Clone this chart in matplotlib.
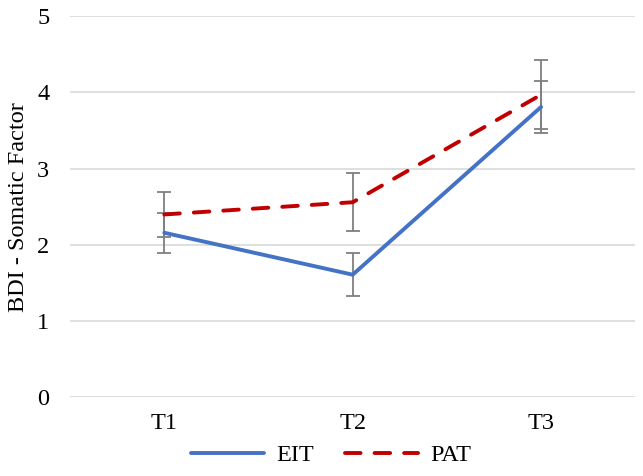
import matplotlib
matplotlib.use("Agg")
import matplotlib.pyplot as plt
from matplotlib import font_manager as fm
import numpy as np

categories = ["T1", "T2", "T3"]
eit_mean = [2.16, 1.61, 3.81]
eit_err = [0.26, 0.28, 0.34]
pat_mean = [2.40, 2.56, 3.97]
pat_err = [0.29, 0.38, 0.45]
yticks = [0, 1, 2, 3, 4, 5]

FONT = "Liberation Serif"
path = fm.findfont(fm.FontProperties(family=FONT), fallback_to_default=True)
prop = fm.FontProperties(fname=path, size=17.5)

fig = plt.figure(figsize=(6.43, 4.76), dpi=100)
ax = fig.add_axes([0.109, 0.165, 0.879, 0.801])

x = np.arange(len(categories)) + 0.5
err_color = "#7f7f7f"
ax.errorbar(x, eit_mean, yerr=eit_err, fmt='none', ecolor=err_color, elinewidth=1.3, capsize=5, capthick=1.3, zorder=3)
ax.errorbar(x, pat_mean, yerr=pat_err, fmt='none', ecolor=err_color, elinewidth=1.3, capsize=5, capthick=1.3, zorder=3)
ax.plot(x, eit_mean, color="#4472C4", lw=2.8, label="EIT", zorder=4, solid_capstyle='round')
ax.plot(x, pat_mean, color="#C00000", lw=2.8, ls=(0, (4.0, 3.6)), label="PAT", zorder=4, dash_capstyle='round')

ax.set_xlim(0, 3)
ax.set_ylim(0, 5)
ax.set_xticks(x)
ax.set_xticklabels(categories)
ax.set_yticks(yticks)
ax.set_yticklabels([str(v) for v in yticks])
for lbl in ax.get_xticklabels() + ax.get_yticklabels():
    lbl.set_fontproperties(prop)
ax.tick_params(length=0, colors="#000000")
ax.tick_params(axis='y', pad=15)
ax.tick_params(axis='x', pad=11)
ax.grid(axis='y', color="#d9d9d9", lw=1.2)
ax.set_axisbelow(True)
for s in ax.spines.values():
    s.set_visible(False)
ax.set_ylabel("BDI - Somatic Factor", fontproperties=prop, labelpad=6)

fig.legend(loc='lower center', bbox_to_anchor=(0.515, -0.025), ncol=2, frameon=False,
           prop=prop, handlelength=3.0, columnspacing=1.3, handletextpad=0.5)

fig.savefig("out.png", dpi=100)
